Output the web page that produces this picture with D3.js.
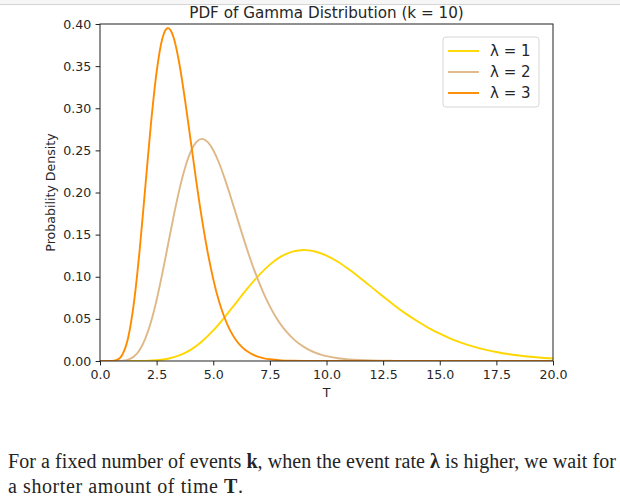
<!DOCTYPE html>
<html><head><meta charset="utf-8">
<script src="https://cdn.jsdelivr.net/npm/d3@7"></script>
<style>
html,body{margin:0;padding:0;background:#fff;}
svg{display:block;}
</style></head>
<body>
<svg id="chart" width="620" height="500"></svg>
<script>
// ---- data ----
const title = "PDF of Gamma Distribution (k = 10)";
const xLabel = "T";
const yLabel = "Probability Density";
const seriesNames = ["λ = 1", "λ = 2", "λ = 3"];
const seriesColors = ["#FFD700", "#DEB887", "#FF8C00"];
const xTicks = [0, 2.5, 5, 7.5, 10, 12.5, 15, 17.5, 20];
const yTicks = [0, 0.05, 0.10, 0.15, 0.20, 0.25, 0.30, 0.35, 0.40];

const t1 = [0,0.5,1,1.5,2,2.5,3,3.5,4,4.5,5,5.5,6,6.5,7,7.5,8,8.5,9,9.5,10,10.5,11,11.5,12,12.5,13,13.5,14,14.5,15,15.5,16,16.5,17,17.5,18,18.5,19,19.5,20];
const lam1 = [0,0,0.000001,0.00002,0.0002,0.0009,0.0027,0.0066,0.0132,0.0232,0.0363,0.0519,0.0688,0.0858,0.1014,0.1144,0.1241,0.1299,0.1318,0.1300,0.1251,0.1178,0.1085,0.0982,0.0874,0.0765,0.0660,0.0562,0.0474,0.0394,0.0324,0.0264,0.0213,0.0171,0.0135,0.0107,0.0083,0.0065,0.0050,0.0038,0.0029];

const t2 = [0,0.5,1,1.25,1.5,1.75,2,2.25,2.5,2.75,3,3.25,3.5,3.75,4,4.25,4.5,4.75,5,5.25,5.5,5.75,6,6.25,6.5,6.75,7,7.25,7.5,7.75,8,8.25,8.5,8.75,9,9.25,9.5,9.75,10,10.5,11,12,13,14,15,16,17,18,19,20];
const lam2 = [0,0.000002,0.0004,0.0017,0.0054,0.0131,0.0265,0.0463,0.0725,0.1037,0.1377,0.1716,0.2028,0.2288,0.2482,0.2598,0.2636,0.2600,0.2502,0.2356,0.2170,0.1964,0.1748,0.1530,0.1320,0.1124,0.0948,0.0788,0.0648,0.0528,0.0426,0.0342,0.0271,0.0213,0.0167,0.0129,0.0100,0.0076,0.0058,0.0033,0.0019,0.0006,0.0002,0.00004,0,0,0,0,0,0];

const t3 = [0,0.25,0.5,0.75,1,1.25,1.5,1.75,2,2.25,2.5,2.75,3,3.25,3.5,3.75,4,4.25,4.5,4.75,5,5.25,5.5,5.75,6,6.25,6.5,6.75,7,7.25,7.5,8,8.5,9,9.5,10,12,14,16,18,20];
const lam3 = [0,0,0.00007,0.0013,0.0081,0.0285,0.0695,0.1314,0.2065,0.2817,0.3432,0.3825,0.3953,0.3840,0.3534,0.3105,0.2622,0.2136,0.1686,0.1296,0.0972,0.0711,0.0513,0.0360,0.0250,0.0170,0.0115,0.0076,0.0050,0.0032,0.0021,0.0008,0.0003,0.0001,0.00004,0,0,0,0,0,0];

const captionLine1 = [["For a fixed number of events ", false], ["k", true], [", when the event rate ", false], ["λ", true], [" is higher, we wait for", false]];
const captionLine2 = [["a shorter amount of time ", false], ["T", true], [".", false]];

// ---- drawing ----
const svg = d3.select("#chart");
const M = {left: 100, right: 553, top: 24, bottom: 361};
const x = d3.scaleLinear().domain([0, 20]).range([M.left, M.right]);
const y = d3.scaleLinear().domain([0, 0.4]).range([M.bottom, M.top]);
const txt = "#262626";
const sans = "'DejaVu Sans', sans-serif";

// top page border
svg.append("rect").attr("x", 0).attr("y", 0).attr("width", 620).attr("height", 4).attr("fill", "#f6f6f6");
svg.append("line").attr("x1", 0).attr("x2", 620).attr("y1", 4.5).attr("y2", 4.5).attr("stroke", "#d4d4d4").attr("stroke-width", 1);

svg.append("defs").append("clipPath").attr("id", "clip")
  .append("rect").attr("x", M.left).attr("y", M.top - 2).attr("width", M.right - M.left).attr("height", M.bottom - M.top + 2);

const series = [
  {name: seriesNames[0], color: seriesColors[0], t: t1, v: lam1},
  {name: seriesNames[1], color: seriesColors[1], t: t2, v: lam2},
  {name: seriesNames[2], color: seriesColors[2], t: t3, v: lam3}
];

const line = d3.line().x(d => x(d[0])).y(d => y(d[1])).curve(d3.curveMonotoneX);
const g = svg.append("g").attr("clip-path", "url(#clip)");
series.forEach(s => {
  g.append("path").datum(s.t.map((tv, i) => [tv, s.v[i]]))
    .attr("d", line).attr("fill", "none").attr("stroke", s.color)
    .attr("stroke-width", 1.9).attr("stroke-linejoin", "round").attr("stroke-linecap", "butt");
});

// axes
const xAxis = d3.axisBottom(x).tickValues(xTicks).tickFormat(d3.format(".1f")).tickSizeOuter(0).tickSize(4.4).tickPadding(4.4);
const yAxis = d3.axisLeft(y).tickValues(yTicks).tickFormat(d3.format(".2f")).tickSizeOuter(0).tickSize(4.4).tickPadding(4.4);
const gx = svg.append("g").attr("transform", `translate(0,${M.bottom})`).call(xAxis);
const gy = svg.append("g").attr("transform", `translate(${M.left},0)`).call(yAxis);
[gx, gy].forEach(a => {
  a.select(".domain").remove();
  a.selectAll(".tick line").attr("stroke", "#222").attr("stroke-width", 1);
  a.selectAll(".tick text").attr("fill", txt).style("font-family", sans).style("font-size", "12.6px");
});
gx.selectAll(".tick text").attr("dy", "0.71em");

// spines
svg.append("rect").attr("x", M.left).attr("y", M.top).attr("width", M.right - M.left).attr("height", M.bottom - M.top)
  .attr("fill", "none").attr("stroke", "#222").attr("stroke-width", 1);

// labels
svg.append("text").attr("x", (M.left + M.right) / 2).attr("y", 17.5).attr("text-anchor", "middle")
  .attr("fill", txt).style("font-family", sans).style("font-size", "15.2px").text(title);
svg.append("text").attr("x", (M.left + M.right) / 2).attr("y", 397).attr("text-anchor", "middle")
  .attr("fill", txt).style("font-family", sans).style("font-size", "12.6px").text(xLabel);
svg.append("text").attr("transform", `translate(55,${(M.top + M.bottom) / 2}) rotate(-90)`).attr("text-anchor", "middle")
  .attr("fill", txt).style("font-family", sans).style("font-size", "12.6px").text(yLabel);

// legend
const lg = svg.append("g");
lg.append("rect").attr("x", 443).attr("y", 37).attr("width", 96).attr("height", 70).attr("rx", 3)
  .attr("fill", "#fff").attr("fill-opacity", 0.8).attr("stroke", "#d6d6d6").attr("stroke-width", 1);
series.forEach((s, i) => {
  const yy = y(0.4) + 27 + i * 21;
  lg.append("line").attr("x1", 448).attr("x2", 479).attr("y1", yy).attr("y2", yy)
    .attr("stroke", s.color).attr("stroke-width", 1.9);
  lg.append("text").attr("x", 490).attr("y", yy + 5.3).attr("fill", txt)
    .style("font-family", sans).style("font-size", "15px").text(s.name);
});

// caption
function caption(parts, yb, len) {
  const t = svg.append("text").attr("x", 8).attr("y", yb).attr("fill", "#242424")
    .style("font-family", "'Liberation Serif', serif").style("font-size", "20px")
    .attr("textLength", len).attr("lengthAdjust", "spacing");
  parts.forEach(p => t.append("tspan").attr("font-weight", p[1] ? "bold" : "normal").text(p[0]));
}
caption(captionLine1, 468, 608);
caption(captionLine2, 493, 235);
</script>
</body></html>
